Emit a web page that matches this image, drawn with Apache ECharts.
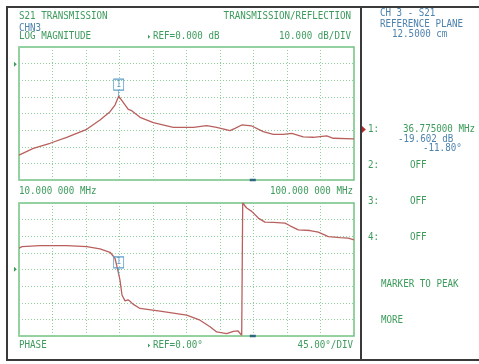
<!DOCTYPE html>
<html>
<head>
<meta charset="utf-8">
<script src="https://cdn.jsdelivr.net/npm/echarts@6/dist/echarts.min.js"></script>
<style>
html,body{margin:0;padding:0;background:#fff;}
#c{width:479px;height:364px;}
</style>
</head>
<body>
<div id="c"></div>
<script>
// ---- data (frequency in MHz) ----
var freqMag = [10.0, 13.84, 18.33, 22.81, 28.19, 31.76, 34.45, 35.79, 36.775, 37.85, 39.36, 40.28, 42.51, 46.08, 51.45, 56.83, 60.43, 63.11, 66.69, 68.03, 69.83, 72.52, 75.63, 78.32, 81.01, 83.26, 86.38, 89.07, 92.67, 94.44, 100.0];
var magDb   = [-55.0, -51.0, -47.9, -44.3, -39.5, -33.9, -28.9, -24.9, -19.6, -22.9, -27.5, -28.3, -32.3, -35.5, -38.3, -38.3, -37.3, -38.3, -40.3, -38.9, -36.9, -37.5, -40.9, -42.5, -42.5, -41.9, -44.0, -44.3, -43.5, -44.9, -45.3];
var freqPhase = [10.0, 10.8, 15.64, 22.81, 28.19, 31.76, 34.45, 35.79, 36.775, 37.13, 37.67, 38.48, 39.28, 39.82, 40.63, 42.51, 47.88, 55.05, 58.63, 61.32, 63.11, 65.8, 67.57, 68.84, 69.83, 70.1, 70.1, 71.17, 72.52, 74.29, 76.09, 78.32, 81.46, 82.81, 85.04, 88.18, 90.41, 93.10, 96.24, 98.47, 100.0];
var phaseDeg  = [57.6, 62.0, 64.7, 64.7, 62.0, 55.7, 46.6, 30.5, -11.8, -28.6, -69.0, -84.8, -82.0, -86.0, -93.8, -105.5, -112.9, -123.7, -137.3, -155.0, -169.0, -173.5, -167.3, -166.4, -178.0, -180.0, 180.0, 166.4, 157.3, 139.2, 128.3, 127.3, 125.6, 118.3, 107.4, 105.5, 101.1, 89.2, 86.5, 84.8, 80.2];
var markerFreq = 36.775;
var markerDb = -19.602;
var markerDeg = -11.80;
var stimulusFreq = 72.8;
var magScale = {min: -70, max: 10, interval: 10};
var phaseScale = {min: -180, max: 180, interval: 45};
var freqRange = {min: 10, max: 100};
var headerTop = ['S21 TRANSMISSION', 'TRANSMISSION/REFLECTION', 'CHN3', 'LOG MAGNITUDE', 'REF=0.000 dB', '10.000 dB/DIV'];
var freqLabels = ['10.000 000 MHz', '100.000 000 MHz'];
var footerBottom = ['PHASE', 'REF=0.00\u00b0', '45.00\u00b0/DIV'];
var sidePanel = ['CH 3 - S21', 'REFERENCE PLANE', '12.5000 cm'];
var markerLines = ['36.775000 MHz', '-19.602 dB', '-11.80\u00b0'];
var markerSlots = ['1:', '2:', '3:', '4:'];
var softKeys = ['OFF', 'MARKER TO PEAK', 'MORE'];

var GREEN = '#3d9b5c', BLUE = '#4d82ad', GRID = '#8fcf9c', BORDER = '#74c282', CURVE = '#b8605e';
var FONT = '"DejaVu Sans Mono", monospace';

function zip(a, b) { return a.map(function (v, i) { return [v, b[i]]; }); }
function T(x, y, s, color, align, size) {
  return {type: 'text', x: x, y: y, scaleX: 0.92, silent: true,
    style: {text: s, fill: color, font: (size || 10) + 'px ' + FONT, textAlign: align || 'left', textVerticalAlign: 'middle'}};
}
function tri(x, y, color, s) {
  s = s || 3;
  return {type: 'polygon', silent: true, shape: {points: [[x, y - s], [x + s * 1.1, y], [x, y + s]]}, style: {fill: color}};
}

var markerSymbol = 'path://M0,0L10,0L10,11L0,11Z M5,11L5,17';
function markerPoint(coord, stimCoord) {
  return {
    data: [
      {coord: coord, symbol: markerSymbol, symbolSize: [10, 17], symbolOffset: [0, -8.5],
        itemStyle: {color: 'rgba(0,0,0,0)', borderColor: '#5d9cc9', borderWidth: 1},
        label: {show: true, formatter: '1', color: '#5d9cc9', fontSize: 8, fontFamily: FONT, offset: [0, -3]}},
      {coord: stimCoord, symbol: 'rect', symbolSize: [6, 2.5], symbolOffset: [0, 0],
        itemStyle: {color: '#2f6680', borderWidth: 0}, label: {show: false}}
    ]
  };
}

var grids = [
  {left: 19, top: 47, width: 335, height: 133, show: true, borderColor: BORDER, borderWidth: 1.5, backgroundColor: 'transparent'},
  {left: 19, top: 203, width: 335, height: 133, show: true, borderColor: BORDER, borderWidth: 1.5, backgroundColor: 'transparent'}
];
var gridLine = {show: true, lineStyle: {color: GRID, type: [1, 2], width: 1}};
var hidden = {axisLine: {show: false}, axisTick: {show: false}, axisLabel: {show: false}};

var option = {
  animation: false,
  backgroundColor: '#fff',
  grid: grids,
  xAxis: [
    Object.assign({type: 'value', gridIndex: 0, min: freqRange.min, max: freqRange.max, splitLine: {show: false}}, hidden),
    Object.assign({type: 'value', gridIndex: 1, min: freqRange.min, max: freqRange.max, splitLine: {show: false}}, hidden),
    Object.assign({type: 'value', gridIndex: 0, min: 0, max: 10, interval: 1, splitLine: gridLine}, hidden),
    Object.assign({type: 'value', gridIndex: 1, min: 0, max: 10, interval: 1, splitLine: gridLine}, hidden)
  ],
  yAxis: [
    Object.assign({type: 'value', gridIndex: 0, min: magScale.min, max: magScale.max, interval: magScale.interval, splitLine: gridLine}, hidden),
    Object.assign({type: 'value', gridIndex: 1, min: phaseScale.min, max: phaseScale.max, interval: phaseScale.interval, splitLine: gridLine}, hidden)
  ],
  series: [
    {type: 'line', xAxisIndex: 0, yAxisIndex: 0, data: zip(freqMag, magDb), showSymbol: false, symbol: 'none',
      lineStyle: {color: CURVE, width: 1.3}, z: 3,
      markPoint: markerPoint([markerFreq, markerDb], [stimulusFreq, magScale.min])},
    {type: 'line', xAxisIndex: 1, yAxisIndex: 1, data: zip(freqPhase, phaseDeg), showSymbol: false, symbol: 'none',
      lineStyle: {color: CURVE, width: 1.3}, z: 3,
      markPoint: markerPoint([markerFreq, markerDeg], [stimulusFreq, phaseScale.min])}
  ],
  graphic: [
    // frame
    {type: 'polyline', silent: true, shape: {points: [[481, 7], [7, 7], [7, 360], [481, 360]]}, style: {stroke: '#3a3a3a', lineWidth: 2, fill: null}},
    {type: 'line', silent: true, shape: {x1: 361, y1: 7, x2: 361, y2: 360}, style: {stroke: '#3a3a3a', lineWidth: 2}},
    // top header
    T(19, 16.5, headerTop[0], GREEN),
    T(351, 16.5, headerTop[1], GREEN, 'right'),
    T(19, 28.5, headerTop[2], BLUE),
    T(19, 36.7, headerTop[3], GREEN),
    tri(148, 36.7, GREEN, 2),
    T(153, 36.7, headerTop[4], GREEN),
    T(351, 36.7, headerTop[5], GREEN, 'right'),
    tri(14, 64.3, GREEN, 2.5),
    // between plots
    T(19, 191.5, freqLabels[0], GREEN),
    T(353, 191.5, freqLabels[1], GREEN, 'right'),
    // bottom footer
    tri(14, 269.3, GREEN, 2.5),
    T(19, 345.5, footerBottom[0], GREEN),
    tri(148, 345.5, GREEN, 2),
    T(153, 345.5, footerBottom[1], GREEN),
    T(353, 345.5, footerBottom[2], GREEN, 'right'),
    // side panel
    T(380, 13, sidePanel[0], BLUE),
    T(380, 24, sidePanel[1], BLUE),
    T(392, 34.7, sidePanel[2], BLUE),
    tri(362, 129.5, '#b52a2a', 3.5),
    T(368, 129.5, markerSlots[0], GREEN),
    T(403, 129.5, markerLines[0], GREEN),
    T(398, 139.3, markerLines[1], BLUE),
    T(423, 148.5, markerLines[2], BLUE),
    T(368, 165, markerSlots[1], GREEN),
    T(410, 165, softKeys[0], GREEN),
    T(368, 201, markerSlots[2], GREEN),
    T(410, 201, softKeys[0], GREEN),
    T(368, 237, markerSlots[3], GREEN),
    T(410, 237, softKeys[0], GREEN),
    T(381, 284.3, softKeys[1], GREEN),
    T(381, 320.7, softKeys[2], GREEN)
  ]
};
var chart = echarts.init(document.getElementById('c'), null, {renderer: 'canvas'});
chart.setOption(option);
</script>
</body>
</html>
